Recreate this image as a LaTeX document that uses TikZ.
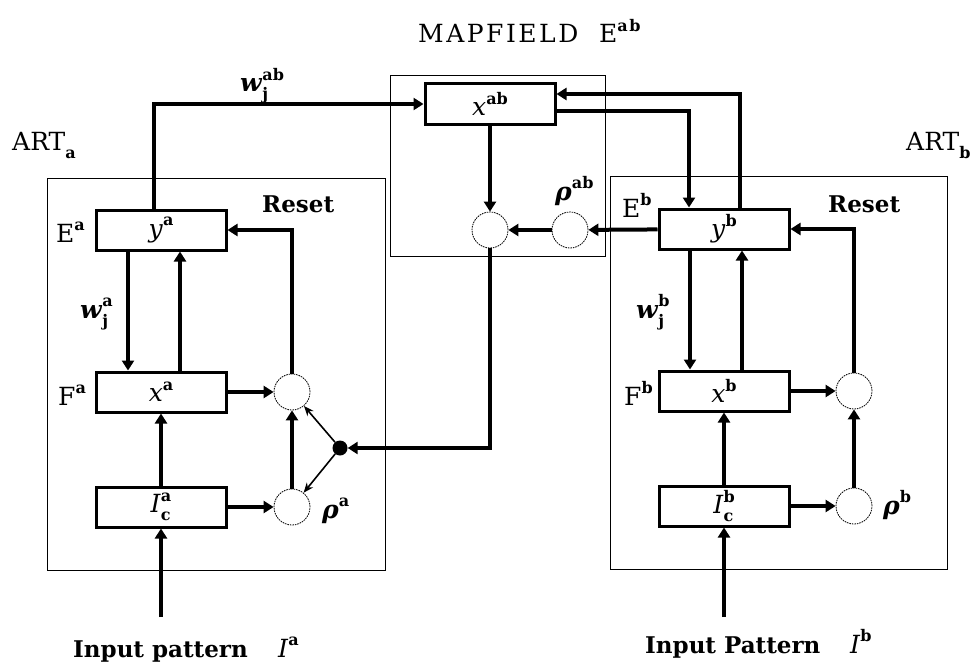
\documentclass[tikz,border=0pt]{standalone}
\usepackage{fontspec}
\setmainfont{DejaVu Serif}
\usetikzlibrary{arrows.meta, positioning, calc}
\newcommand{\upidx}[1]{\raisebox{0.45em}{\fontsize{16}{16}\selectfont\bfseries #1}}
\newcommand{\lowidx}[1]{\raisebox{-0.32em}{\fontsize{16}{16}\selectfont\bfseries #1}}
\tikzset{
  frm/.style={draw, line width=1pt, inner sep=0pt},
  blk/.style={draw, line width=3pt, minimum width=130pt, minimum height=40pt, inner sep=0pt, font=\fontsize{25}{26}\selectfont},
  cir/.style={circle, draw, line width=0.8pt, dash pattern=on 1.6pt off 0.9pt, minimum size=36pt, inner sep=0pt},
  jn/.style={circle, fill, minimum size=15pt, inner sep=0pt},
  a/.style={-{Triangle[length=10pt, width=12pt]}, line width=4pt},
  athin/.style={-{Stealth[length=10pt, width=8pt]}, line width=1.6pt},
  lbl/.style={font=\fontsize{25}{26}\selectfont, inner sep=0pt, anchor=base west},
  lblb/.style={lbl, font=\fontsize{23}{24}\selectfont\bfseries},
}

\begin{document}
\begin{tikzpicture}[x=1pt, y=-1pt]
\useasboundingbox (0,0) rectangle (980,669);
% frames
\node[frm, minimum width=338pt, minimum height=392pt] (artA) at (216,374) {};
\node[frm, minimum width=337pt, minimum height=393pt] (artB) at (778.5,372.5) {};
\node[frm, minimum width=215pt, minimum height=180pt] (map) at (497.5,166) {};

% fields
\node[blk] (xab) at (490,104) {\textit{x}\upidx{ab}};
\node[blk] (ya) at (161,230) {\textit{y}\upidx{a}};
\node[blk] (xa) at (161,392) {\textit{x}\upidx{a}};
\node[blk] (ica) at (161,507) {\textit{I}\rlap{\lowidx{c}}\upidx{a}};
\node[blk] (yb) at (724,229) {\textit{y}\upidx{b}};
\node[blk] (xb) at (724,391) {\textit{x}\upidx{b}};
\node[blk] (icb) at (724,506) {\textit{I}\rlap{\lowidx{c}}\upidx{b}};

% match / vigilance units
\node[cir] (ca1) at (292,392) {};
\node[cir] (ca2) at (292,507) {};
\node[cir] (cb1) at (854,391) {};
\node[cir] (cb2) at (854,506) {};
\node[cir] (cab) at (490,230) {};
\node[cir] (crab) at (570,230) {};
\node[jn] (jA) at (340,448) {};
\coordinate (inA) at (161,617);
\coordinate (inB) at (724,617);

% mapfield links
\draw[a] ([xshift=-7pt]ya.north) |- (xab.west);
\draw[a] ([xshift=16pt]yb.north) |- ([yshift=10pt]xab.east);
\draw[a] ([yshift=-7pt]xab.east) -| ([xshift=-35pt]yb.north);
\draw[a] (xab) -- (cab);
\draw[a] (crab) -- (cab);
\draw[a] (yb) -- (crab);
\draw[a] (cab) |- (jA);
\draw[athin] (jA) -- (ca1);
\draw[athin] (jA) -- (ca2);

% ART a
\draw[a] (ca1) |- (ya);
\draw[a] ([xshift=-33pt]ya.south) -- ([xshift=-33pt]xa.north);
\draw[a] ([xshift=19pt]xa.north) -- ([xshift=19pt]ya.south);
\draw[a] (xa) -- (ca1);
\draw[a] (ica) -- (xa);
\draw[a] (ica) -- (ca2);
\draw[a] (ca2) -- (ca1);
\draw[a] (inA) -- (ica);

% ART b
\draw[a] (cb1) |- (yb);
\draw[a] ([xshift=-34pt]yb.south) -- ([xshift=-34pt]xb.north);
\draw[a] ([xshift=18pt]xb.north) -- ([xshift=18pt]yb.south);
\draw[a] (xb) -- (cb1);
\draw[a] (icb) -- (xb);
\draw[a] (icb) -- (cb2);
\draw[a] (cb2) -- (cb1);
\draw[a] (inB) -- (icb);

% labels
\node[lbl] (tMap) at (418,43) {\addfontfeature{LetterSpace=10}MAPFIELD\ \ E\upidx{ab}};
\node[lbl] (tArtA) at (12,150) {ART\lowidx{a}};
\node[lbl] (tArtB) at (906,150) {ART\lowidx{b}};
\node[lbl] (tEa) at (56,242) {E\upidx{a}};
\node[lbl] (tFa) at (58,405) {F\upidx{a}};
\node[lbl] (tEb) at (622,217) {E\upidx{b}};
\node[lbl] (tFb) at (624,405) {F\upidx{b}};
\node[lblb] (tRa) at (262,212) {Reset};
\node[lblb] (tRb) at (828,212) {Reset};
\node[lbl] (twa) at (80,318) {\textbf{\textit{w}}\rlap{\lowidx{j}}\upidx{a}};
\node[lbl] (twb) at (636,318) {\textbf{\textit{w}}\rlap{\lowidx{j}}\upidx{b}};
\node[lbl] (twab) at (240,92) {\textbf{\textit{w}}\rlap{\lowidx{j}}\upidx{ab}};
\node[lbl] (tra) at (322,518) {\textbf{\textit{ρ}}\upidx{a}};
\node[lbl] (trb) at (883,514) {\textbf{\textit{ρ}}\upidx{b}};
\node[lbl] (trab) at (555,200) {\textbf{\textit{ρ}}\upidx{ab}};
\node[lblb] (tinA) at (73,657) {Input pattern};
\node[lbl] (tIa) at (278,657) {\textit{I}\upidx{a}};
\node[lblb] (tinB) at (645,653) {Input Pattern};
\node[lbl] (tIb) at (850,653) {\textit{I}\upidx{b}};
\end{tikzpicture}
\end{document}
